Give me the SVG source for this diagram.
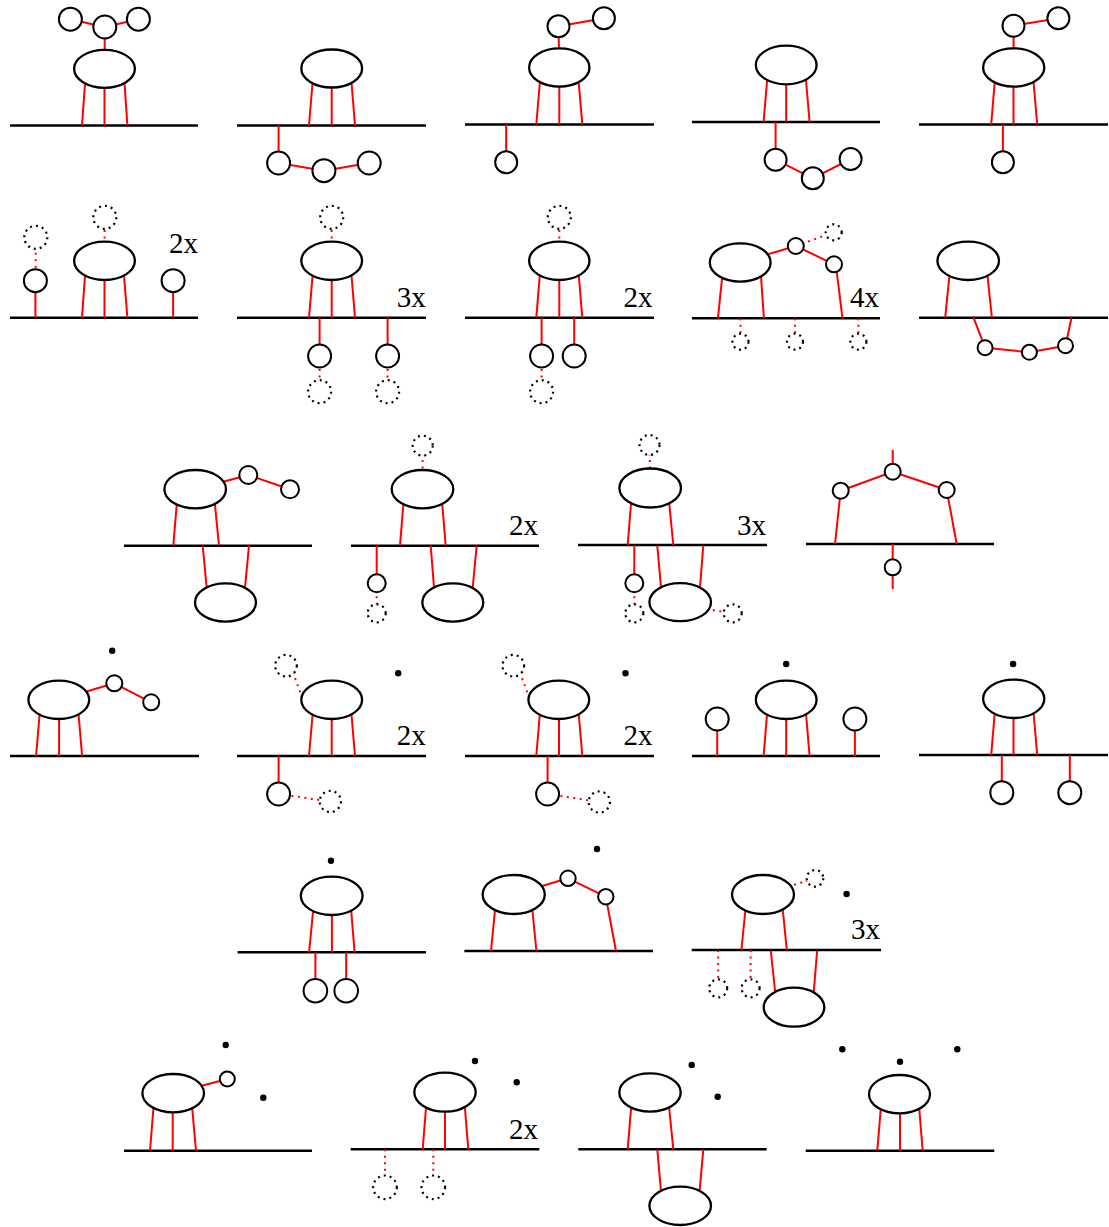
<svg xmlns="http://www.w3.org/2000/svg" width="1109" height="1227" viewBox="0 0 1109 1227">
<style>
.base{stroke:#000;stroke-width:2.5}
.r{stroke:#f00;stroke-width:2;fill:none}
.rd{stroke:#f00;stroke-width:2;stroke-dasharray:2 4.5;fill:none}
.e{fill:#fff;stroke:#000;stroke-width:2.3}
.c{fill:#fff;stroke:#000;stroke-width:2}
.dc{fill:#fff;stroke:#000;stroke-width:2.2;stroke-dasharray:2 4}
.dot{fill:#000}
.lbl{font-family:"Liberation Serif","Times New Roman",serif;font-size:29px;fill:#000;text-anchor:end}
</style>
<rect width="1109" height="1227" fill="#fff"/>
<g id="membranes">
<line class="base" x1="10" y1="125.5" x2="198" y2="125.5"/>
<line class="base" x1="237" y1="125.5" x2="426" y2="125.5"/>
<line class="base" x1="465" y1="124.5" x2="654" y2="124.5"/>
<line class="base" x1="692" y1="122" x2="880" y2="122"/>
<line class="base" x1="919" y1="124.5" x2="1108" y2="124.5"/>
<line class="base" x1="10" y1="317.7" x2="198" y2="317.7"/>
<line class="base" x1="237" y1="317.7" x2="426" y2="317.7"/>
<line class="base" x1="465" y1="317.7" x2="654" y2="317.7"/>
<line class="base" x1="692" y1="318.3" x2="880" y2="318.3"/>
<line class="base" x1="919" y1="317.7" x2="1108" y2="317.7"/>
<line class="base" x1="124" y1="545.7" x2="312" y2="545.7"/>
<line class="base" x1="351" y1="545.7" x2="539" y2="545.7"/>
<line class="base" x1="578" y1="545" x2="767" y2="545"/>
<line class="base" x1="806" y1="544" x2="994" y2="544"/>
<line class="base" x1="10" y1="756" x2="199" y2="756"/>
<line class="base" x1="237" y1="756" x2="426" y2="756"/>
<line class="base" x1="465" y1="756" x2="654" y2="756"/>
<line class="base" x1="692" y1="756" x2="880" y2="756"/>
<line class="base" x1="919" y1="755" x2="1108" y2="755"/>
<line class="base" x1="237.6" y1="952.3" x2="426" y2="952.3"/>
<line class="base" x1="464.4" y1="951" x2="653" y2="951"/>
<line class="base" x1="691.7" y1="950" x2="881" y2="950"/>
<line class="base" x1="124" y1="1150.7" x2="312" y2="1150.7"/>
<line class="base" x1="350.7" y1="1149.3" x2="539.3" y2="1149.3"/>
<line class="base" x1="578.3" y1="1149.3" x2="766.7" y2="1149.3"/>
<line class="base" x1="805.7" y1="1150.7" x2="994.3" y2="1150.7"/>
</g>
<g id="connectors">
<line class="r" x1="85.3" y1="80" x2="82" y2="125.5"/><line class="r" x1="104.5" y1="80" x2="104.5" y2="125.5"/><line class="r" x1="124.3" y1="80" x2="127.4" y2="125.5"/>
<line class="r" x1="104.5" y1="68.8" x2="104.8" y2="27"/><line class="r" x1="70.4" y1="19.2" x2="104.8" y2="27"/><line class="r" x1="104.8" y1="27" x2="138.4" y2="19.2"/>
<line class="r" x1="312.8" y1="80" x2="309" y2="125.5"/><line class="r" x1="331.7" y1="80" x2="331.7" y2="125.5"/><line class="r" x1="351.3" y1="80" x2="355" y2="125.5"/>
<line class="r" x1="278.6" y1="125.5" x2="278.6" y2="163"/><line class="r" x1="278.6" y1="163" x2="323.9" y2="170.7"/><line class="r" x1="323.9" y1="170.7" x2="369.2" y2="163"/>
<line class="r" x1="540.1" y1="80" x2="536.3" y2="124.5"/><line class="r" x1="559.3" y1="80" x2="559.3" y2="124.5"/><line class="r" x1="578.5" y1="80" x2="582.3" y2="124.5"/>
<line class="r" x1="559.3" y1="67.5" x2="558.5" y2="26.2"/><line class="r" x1="558.5" y1="26.2" x2="603.9" y2="18.3"/><line class="r" x1="506.2" y1="124.5" x2="506.2" y2="162.3"/>
<line class="r" x1="767.3" y1="78" x2="763.6" y2="122"/><line class="r" x1="786.2" y1="78" x2="786.2" y2="122"/><line class="r" x1="805.8" y1="78" x2="809.6" y2="122"/>
<line class="r" x1="775.6" y1="122" x2="775.6" y2="159.7"/><line class="r" x1="775.6" y1="159.7" x2="812.8" y2="178.3"/><line class="r" x1="812.8" y1="178.3" x2="850.6" y2="159"/>
<line class="r" x1="994.9" y1="80" x2="991.2" y2="124.5"/><line class="r" x1="1013.5" y1="80" x2="1013.5" y2="124.5"/><line class="r" x1="1033.4" y1="80" x2="1037.2" y2="124.5"/>
<line class="r" x1="1013.7" y1="67.5" x2="1013.5" y2="25.7"/><line class="r" x1="1013.5" y1="25.7" x2="1058.4" y2="18.3"/><line class="r" x1="1002.9" y1="124.5" x2="1002.9" y2="162.3"/>
<line class="r" x1="85.3" y1="272" x2="82" y2="317.7"/><line class="r" x1="104.5" y1="272" x2="104.5" y2="317.7"/><line class="r" x1="123.7" y1="272" x2="127.4" y2="317.7"/>
<line class="rd" x1="104.5" y1="245" x2="104.8" y2="217.3"/><line class="rd" x1="35.6" y1="280.7" x2="35.8" y2="237.3"/>
<line class="r" x1="35.4" y1="317.7" x2="35.4" y2="280.7"/><line class="r" x1="173.1" y1="317.7" x2="173.1" y2="280.7"/>
<line class="r" x1="312.9" y1="272" x2="309" y2="317.7"/><line class="r" x1="331.7" y1="272" x2="331.7" y2="317.7"/><line class="r" x1="351.2" y1="272" x2="355" y2="317.7"/>
<line class="rd" x1="331.7" y1="245" x2="331.7" y2="217.3"/>
<line class="r" x1="319.6" y1="317.7" x2="319.6" y2="356"/><line class="r" x1="387.6" y1="317.7" x2="387.6" y2="356"/>
<line class="rd" x1="319.6" y1="356" x2="319.6" y2="391.7"/><line class="rd" x1="387.6" y1="356" x2="387.6" y2="391.7"/>
<line class="r" x1="540.1" y1="272" x2="536.3" y2="317.7"/><line class="r" x1="559.3" y1="272" x2="559.3" y2="317.7"/><line class="r" x1="578.5" y1="272" x2="582.3" y2="317.7"/>
<line class="rd" x1="559.3" y1="245" x2="559.3" y2="217.3"/><line class="rd" x1="541.6" y1="356" x2="541.6" y2="391.7"/>
<line class="r" x1="541.6" y1="317.7" x2="541.6" y2="356"/><line class="r" x1="574.2" y1="317.7" x2="574.2" y2="356"/>
<line class="r" x1="722.7" y1="272" x2="717.9" y2="318.3"/><line class="r" x1="760.7" y1="272" x2="763.9" y2="318.3"/>
<line class="r" x1="740.2" y1="262.5" x2="795.8" y2="246"/><line class="r" x1="795.8" y1="246" x2="834" y2="264.3"/><line class="r" x1="836" y1="266" x2="842.5" y2="318.3"/>
<line class="rd" x1="795.8" y1="246" x2="833.7" y2="232.3"/>
<line class="rd" x1="740.5" y1="318.3" x2="740.5" y2="341.7"/><line class="rd" x1="795" y1="318.3" x2="795" y2="341.7"/><line class="rd" x1="858.4" y1="318.3" x2="858.4" y2="341.7"/>
<line class="r" x1="949.8" y1="272" x2="945.2" y2="317.7"/><line class="r" x1="987.1" y1="272" x2="991.9" y2="317.7"/>
<line class="r" x1="973.5" y1="317.7" x2="985.1" y2="347.7"/><line class="r" x1="985.1" y1="347.7" x2="1029.4" y2="352.3"/><line class="r" x1="1029.4" y1="352.3" x2="1065.5" y2="345.7"/><line class="r" x1="1065.5" y1="345.7" x2="1071.5" y2="317.7"/>
<line class="r" x1="177.1" y1="500" x2="173.3" y2="545.7"/><line class="r" x1="214.5" y1="500" x2="219" y2="545.7"/>
<line class="r" x1="202.7" y1="545.7" x2="207.4" y2="595"/><line class="r" x1="249" y1="545.7" x2="244.3" y2="595"/>
<line class="r" x1="195.2" y1="489.2" x2="248.3" y2="475"/><line class="r" x1="248.3" y1="475" x2="290" y2="489.3"/>
<line class="rd" x1="422.5" y1="475" x2="422.7" y2="445.7"/>
<line class="r" x1="403.7" y1="500" x2="400" y2="545.7"/><line class="r" x1="441.9" y1="500" x2="445.7" y2="545.7"/>
<line class="r" x1="430.7" y1="545.7" x2="434.6" y2="595"/><line class="r" x1="476.7" y1="545.7" x2="472" y2="595"/>
<line class="r" x1="376.7" y1="545.7" x2="376.7" y2="583.3"/><line class="rd" x1="376.7" y1="583.3" x2="376.7" y2="613.3"/>
<line class="rd" x1="650" y1="475" x2="649.5" y2="445"/>
<line class="r" x1="631.3" y1="500" x2="627.7" y2="545"/><line class="r" x1="668.9" y1="500" x2="673.3" y2="545"/>
<line class="r" x1="657.3" y1="545.7" x2="661.7" y2="595"/><line class="r" x1="703.3" y1="545.7" x2="699.4" y2="595"/>
<line class="r" x1="634.3" y1="545" x2="634.3" y2="583.3"/><line class="rd" x1="634.3" y1="583.3" x2="634.3" y2="613.3"/>
<line class="rd" x1="700" y1="608" x2="732.7" y2="613.3"/>
<line class="r" x1="892.7" y1="450" x2="892.7" y2="471.7"/><line class="r" x1="840.7" y1="490.7" x2="892.7" y2="471.7"/><line class="r" x1="892.7" y1="471.7" x2="946.7" y2="490"/>
<line class="r" x1="840.7" y1="490.7" x2="835" y2="544"/><line class="r" x1="946.7" y1="490" x2="956.7" y2="544"/><line class="r" x1="892.7" y1="544" x2="892.7" y2="589"/>
<line class="r" x1="39.9" y1="711" x2="36.1" y2="756"/><line class="r" x1="59.1" y1="711" x2="59.1" y2="756"/><line class="r" x1="78.3" y1="711" x2="82.1" y2="756"/>
<line class="r" x1="58.8" y1="699.8" x2="114.3" y2="683.3"/><line class="r" x1="114.3" y1="683.3" x2="151.2" y2="702.3"/>
<line class="r" x1="312.9" y1="711" x2="309" y2="756"/><line class="r" x1="331.7" y1="711" x2="331.7" y2="756"/><line class="r" x1="351.2" y1="711" x2="355" y2="756"/>
<line class="rd" x1="290.5" y1="666" x2="302" y2="697"/>
<line class="r" x1="278.6" y1="756" x2="278.6" y2="794"/><line class="rd" x1="278.6" y1="794" x2="330.3" y2="801.5"/>
<line class="r" x1="540.1" y1="711" x2="536.3" y2="756"/><line class="r" x1="559" y1="711" x2="559" y2="756"/><line class="r" x1="578.5" y1="711" x2="582.3" y2="756"/>
<line class="rd" x1="517.5" y1="666" x2="529" y2="697"/>
<line class="r" x1="547.6" y1="756" x2="547.6" y2="794"/><line class="rd" x1="547.6" y1="794" x2="599.3" y2="802"/>
<line class="r" x1="767.3" y1="711" x2="763.6" y2="756"/><line class="r" x1="786.2" y1="711" x2="786.2" y2="756"/><line class="r" x1="805.8" y1="711" x2="809.6" y2="756"/>
<line class="r" x1="717.2" y1="756" x2="717.2" y2="719"/><line class="r" x1="854.9" y1="756" x2="854.9" y2="719"/>
<line class="r" x1="994.9" y1="711" x2="991.2" y2="755"/><line class="r" x1="1013.5" y1="711" x2="1013.5" y2="755"/><line class="r" x1="1033.4" y1="711" x2="1037.2" y2="755"/>
<line class="r" x1="1001.8" y1="755" x2="1001.8" y2="792.7"/><line class="r" x1="1069.8" y1="755" x2="1069.8" y2="792.7"/>
<line class="r" x1="313.5" y1="907" x2="309.1" y2="952.3"/><line class="r" x1="331.9" y1="907" x2="331.9" y2="952.3"/><line class="r" x1="350.9" y1="907" x2="354.6" y2="952.3"/>
<line class="r" x1="315.4" y1="952.3" x2="315.4" y2="990.7"/><line class="r" x1="346.2" y1="952.3" x2="346.2" y2="990.7"/>
<line class="r" x1="495.4" y1="906" x2="491" y2="951"/><line class="r" x1="532" y1="906" x2="536.4" y2="951"/>
<line class="r" x1="513.7" y1="894.5" x2="568" y2="878.3"/><line class="r" x1="568" y1="878.3" x2="605.8" y2="896.7"/><line class="r" x1="605.8" y1="896.7" x2="616" y2="951"/>
<line class="rd" x1="763" y1="894.5" x2="815" y2="878.3"/>
<line class="r" x1="745.8" y1="906" x2="741.4" y2="950"/><line class="r" x1="782.4" y1="906" x2="786.8" y2="950"/>
<line class="r" x1="770.8" y1="951" x2="775.5" y2="995"/><line class="r" x1="817.1" y1="951" x2="813.5" y2="995"/>
<line class="rd" x1="718.2" y1="950" x2="718.2" y2="988.3"/><line class="rd" x1="750.6" y1="950" x2="750.6" y2="988.3"/>
<line class="r" x1="153.7" y1="1105" x2="150" y2="1150.7"/><line class="r" x1="172.7" y1="1105" x2="172.7" y2="1150.7"/><line class="r" x1="191.9" y1="1105" x2="196" y2="1150.7"/>
<line class="r" x1="173.2" y1="1093.2" x2="227.3" y2="1079"/>
<line class="r" x1="426.3" y1="1104" x2="422.7" y2="1149.3"/><line class="r" x1="445" y1="1104" x2="445" y2="1149.3"/><line class="r" x1="464.6" y1="1104" x2="468.3" y2="1149.3"/>
<line class="rd" x1="385" y1="1149.3" x2="385" y2="1187.3"/><line class="rd" x1="433.3" y1="1149.3" x2="433.3" y2="1187.3"/>
<line class="r" x1="631.4" y1="1104" x2="627.7" y2="1149.3"/><line class="r" x1="668.8" y1="1104" x2="673.3" y2="1149.3"/>
<line class="r" x1="657.3" y1="1149.3" x2="661.6" y2="1198"/><line class="r" x1="703.3" y1="1149.3" x2="699" y2="1198"/>
<line class="r" x1="881" y1="1106" x2="877.3" y2="1150.7"/><line class="r" x1="900" y1="1106" x2="900" y2="1150.7"/><line class="r" x1="919" y1="1106" x2="922.7" y2="1150.7"/>
</g>
<g id="nodes">
<g id="n11"><ellipse class="e" cx="104.5" cy="68.8" rx="30.4" ry="19"/><circle class="c" cx="104.8" cy="27" r="11.5"/><circle class="c" cx="70.4" cy="19.2" r="11.5"/><circle class="c" cx="138.4" cy="19.2" r="11.5"/></g>
<g id="n12"><ellipse class="e" cx="331.7" cy="68.5" rx="30.4" ry="19"/><circle class="c" cx="278.6" cy="163" r="11.5"/><circle class="c" cx="323.9" cy="170.7" r="11.5"/><circle class="c" cx="369.2" cy="163" r="11.5"/></g>
<g id="n13"><ellipse class="e" cx="559.3" cy="67.5" rx="30.2" ry="19.2"/><circle class="c" cx="558.5" cy="26.2" r="11"/><circle class="c" cx="603.9" cy="18.3" r="11"/><circle class="c" cx="506.2" cy="162.3" r="11"/></g>
<g id="n14"><ellipse class="e" cx="786.2" cy="65" rx="30.4" ry="19.3"/><circle class="c" cx="775.6" cy="159.7" r="11"/><circle class="c" cx="812.8" cy="178.3" r="11"/><circle class="c" cx="850.6" cy="159" r="11"/></g>
<g id="n15"><ellipse class="e" cx="1013.7" cy="67.5" rx="30.6" ry="19.2"/><circle class="c" cx="1013.5" cy="25.7" r="11"/><circle class="c" cx="1058.4" cy="18.3" r="11"/><circle class="c" cx="1002.9" cy="162.3" r="11"/></g>
<g id="n21"><ellipse class="e" cx="104.5" cy="260.8" rx="30.4" ry="19.2"/><circle class="dc" cx="104.8" cy="217.3" r="11.5"/><circle class="dc" cx="35.8" cy="237.3" r="11.5"/><circle class="c" cx="35.4" cy="280.7" r="11.5"/><circle class="c" cx="173.1" cy="280.7" r="11.5"/><text class="lbl" x="198" y="253">2x</text></g>
<g id="n22"><ellipse class="e" cx="331.7" cy="260.8" rx="30.4" ry="19.2"/><circle class="dc" cx="331.7" cy="217.3" r="11.5"/><circle class="c" cx="319.6" cy="356" r="11.5"/><circle class="c" cx="387.6" cy="356" r="11.5"/><circle class="dc" cx="319.6" cy="391.7" r="11.5"/><circle class="dc" cx="387.6" cy="391.7" r="11.5"/><text class="lbl" x="425.8" y="307">3x</text></g>
<g id="n23"><ellipse class="e" cx="559.3" cy="260.8" rx="30.2" ry="19.2"/><circle class="dc" cx="559.3" cy="217.3" r="11.5"/><circle class="c" cx="541.6" cy="356" r="11.5"/><circle class="c" cx="574.2" cy="356" r="11.5"/><circle class="dc" cx="541.6" cy="391.7" r="11.5"/><text class="lbl" x="652.5" y="307">2x</text></g>
<g id="n24"><ellipse class="e" cx="740.2" cy="262.5" rx="30.4" ry="19.2"/><circle class="c" cx="795.8" cy="246" r="8"/><circle class="c" cx="834" cy="264.3" r="8"/><circle class="dc" cx="833.7" cy="232.3" r="8"/><circle class="dc" cx="740.5" cy="341.7" r="8"/><circle class="dc" cx="795" cy="341.7" r="8"/><circle class="dc" cx="858.4" cy="341.7" r="8"/><text class="lbl" x="879" y="307">4x</text></g>
<g id="n25"><ellipse class="e" cx="968.2" cy="260.8" rx="30.8" ry="19.2"/><circle class="c" cx="985.1" cy="347.7" r="7.5"/><circle class="c" cx="1029.4" cy="352.3" r="7.5"/><circle class="c" cx="1065.5" cy="345.7" r="7.5"/></g>
<g id="n31"><ellipse class="e" cx="195.2" cy="489.2" rx="30.8" ry="19.2"/><ellipse class="e" cx="225.5" cy="602.5" rx="30.5" ry="19.2"/><circle class="c" cx="248.3" cy="475" r="9"/><circle class="c" cx="290" cy="489.3" r="9"/></g>
<g id="n32"><ellipse class="e" cx="422.5" cy="489.2" rx="30.8" ry="19.2"/><ellipse class="e" cx="452.8" cy="602.5" rx="30.5" ry="19.2"/><circle class="dc" cx="422.7" cy="445.7" r="10"/><circle class="c" cx="376.7" cy="583.3" r="9"/><circle class="dc" cx="376.7" cy="613.3" r="9"/><text class="lbl" x="538" y="535">2x</text></g>
<g id="n33"><ellipse class="e" cx="650.2" cy="488" rx="30.8" ry="19.5"/><ellipse class="e" cx="680.2" cy="602.2" rx="30.8" ry="19"/><circle class="dc" cx="649.5" cy="445" r="10"/><circle class="c" cx="634.3" cy="583.3" r="9"/><circle class="dc" cx="634.3" cy="613.3" r="9"/><circle class="dc" cx="732.7" cy="613.3" r="9"/><text class="lbl" x="766" y="535">3x</text></g>
<g id="n34"><circle class="c" cx="892.7" cy="471.7" r="8"/><circle class="c" cx="840.7" cy="490.7" r="8"/><circle class="c" cx="946.7" cy="490" r="8"/><circle class="c" cx="892.7" cy="567.3" r="8"/></g>
<g id="n41"><ellipse class="e" cx="58.8" cy="699.8" rx="30.4" ry="19.2"/><circle class="c" cx="114.3" cy="683.3" r="8"/><circle class="c" cx="151.2" cy="702.3" r="8"/><circle class="dot" cx="112.2" cy="650.7" r="3.2"/></g>
<g id="n42"><ellipse class="e" cx="331.7" cy="699.8" rx="30.4" ry="19.2"/><circle class="dc" cx="286" cy="665.7" r="10.8"/><circle class="dot" cx="398.2" cy="673.3" r="3.2"/><circle class="c" cx="278.6" cy="794" r="11.5"/><circle class="dc" cx="330.3" cy="801.5" r="10.6"/><text class="lbl" x="425.8" y="745">2x</text></g>
<g id="n43"><ellipse class="e" cx="558.8" cy="699.8" rx="30.4" ry="19.2"/><circle class="dc" cx="513.3" cy="665.7" r="10.8"/><circle class="dot" cx="625.5" cy="673.3" r="3.2"/><circle class="c" cx="547.6" cy="794" r="11.5"/><circle class="dc" cx="599.3" cy="802" r="10.6"/><text class="lbl" x="652.5" y="745">2x</text></g>
<g id="n44"><ellipse class="e" cx="786.2" cy="699.8" rx="30.4" ry="19.2"/><circle class="dot" cx="786.2" cy="664" r="3.2"/><circle class="c" cx="717.2" cy="719" r="11.5"/><circle class="c" cx="854.9" cy="719" r="11.5"/></g>
<g id="n45"><ellipse class="e" cx="1013.7" cy="698.8" rx="30.6" ry="19.2"/><circle class="dot" cx="1013.1" cy="664" r="3.2"/><circle class="c" cx="1001.8" cy="792.7" r="11.5"/><circle class="c" cx="1069.8" cy="792.7" r="11.5"/></g>
<g id="n51"><ellipse class="e" cx="331.7" cy="895.8" rx="30.9" ry="19.2"/><circle class="dot" cx="331" cy="860.7" r="3.2"/><circle class="c" cx="315.4" cy="990.7" r="11.8"/><circle class="c" cx="346.2" cy="990.7" r="11.8"/></g>
<g id="n52"><ellipse class="e" cx="513.7" cy="894.5" rx="31.1" ry="19.5"/><circle class="c" cx="568" cy="878.3" r="7.7"/><circle class="c" cx="605.8" cy="896.7" r="7.7"/><circle class="dot" cx="597" cy="849" r="3.2"/></g>
<g id="n53"><ellipse class="e" cx="763" cy="894.5" rx="31" ry="19.5"/><ellipse class="e" cx="794" cy="1007.2" rx="30.3" ry="19.5"/><circle class="dc" cx="815" cy="878.3" r="8.3"/><circle class="dot" cx="846.6" cy="894" r="3.2"/><circle class="dc" cx="718.2" cy="988.3" r="9"/><circle class="dc" cx="750.6" cy="988.3" r="9"/><text class="lbl" x="880" y="938.5">3x</text></g>
<g id="n61"><ellipse class="e" cx="173.2" cy="1093.2" rx="30.8" ry="19.2"/><circle class="c" cx="227.3" cy="1079" r="7.5"/><circle class="dot" cx="225.7" cy="1045" r="3.2"/><circle class="dot" cx="263.3" cy="1097.7" r="3.2"/></g>
<g id="n62"><ellipse class="e" cx="445" cy="1092.2" rx="30.7" ry="19.5"/><circle class="dot" cx="475" cy="1061" r="3.2"/><circle class="dot" cx="516.7" cy="1082.3" r="3.2"/><circle class="dc" cx="385" cy="1187.3" r="11.8"/><circle class="dc" cx="433.3" cy="1187.3" r="11.8"/><text class="lbl" x="538" y="1139">2x</text></g>
<g id="n63"><ellipse class="e" cx="650" cy="1092.5" rx="30.7" ry="19.2"/><ellipse class="e" cx="680.2" cy="1205.8" rx="30.8" ry="19.2"/><circle class="dot" cx="691.7" cy="1065" r="3.2"/><circle class="dot" cx="717.7" cy="1096.7" r="3.2"/></g>
<g id="n64"><ellipse class="e" cx="899.5" cy="1094.2" rx="30.5" ry="19.2"/><circle class="dot" cx="842.3" cy="1049.3" r="3.2"/><circle class="dot" cx="900" cy="1061.7" r="3.2"/><circle class="dot" cx="957.3" cy="1049.3" r="3.2"/></g>
</g>
</svg>
